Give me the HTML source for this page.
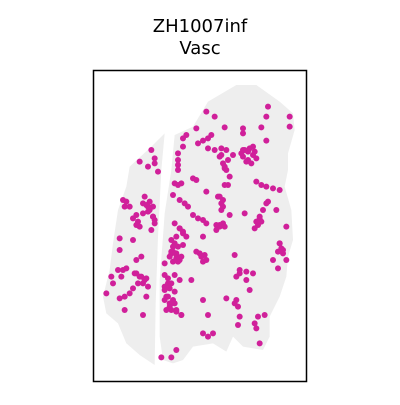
<!DOCTYPE html>
<html><head><meta charset="utf-8"><style>
body{margin:0;background:#fff;width:400px;height:400px;overflow:hidden}
</style></head><body>
<svg id="chart" width="400" height="400" xmlns="http://www.w3.org/2000/svg" font-family="DejaVu Sans, sans-serif">
<text x="200" y="32" text-anchor="middle" font-size="18">ZH1007inf</text>
<text x="200" y="54" text-anchor="middle" font-size="18">Vasc</text>
<g id="tissue"></g>
<g id="spots"></g>
<rect x="93.5" y="70.5" width="213" height="311" fill="none" stroke="#000" stroke-width="1.5"/>
</svg>
<script>
const leftTissue=[[215,190],[205,300],[195,500],[188,700],[185,885],[140,855],[100,820],[75,760],[40,730],[30,680],[50,600],[60,520],[75,420],[100,350],[110,290],[175,230]];
const rightTissue=[[245,195],[300,170],[345,95],[430,45],[490,45],[560,95],[600,130],[605,180],[585,250],[585,300],[575,350],[595,420],[600,510],[585,560],[580,620],[560,680],[530,740],[530,800],[510,840],[450,830],[420,800],[400,845],[360,820],[300,830],[270,870],[240,880],[210,870],[200,800],[200,630],[210,500],[215,430],[235,300]];
const spotX=[340,365,525,520,590,590,395,450,450,505,520,280,270,270,310,315,330,345,355,450,465,480,465,450,480,345,365,385,400,420,380,390,400,410,405,395,405,255,255,255,255,175,185,140,165,195,185,245,255,265,300,310,240,260,275,285,340,380,385,385,390,410,300,315,330,340,370,380,390,490,505,520,540,560,520,510,500,490,485,455,550,580,90,95,155,160,170,180,185,175,130,135,140,120,80,80,245,260,270,280,235,240,250,260,235,250,215,330,310,325,340,425,560,565,570,540,555,580,440,460,480,460,470,55,75,100,125,140,155,165,130,145,40,80,95,110,120,160,95,150,215,225,235,215,225,235,220,230,240,250,265,295,330,345,330,345,360,400,430,435,440,435,425,495,515,490,485,500,250,205,235,
455,470,485,460,475,445,490,375,390,380,395,370,150,165,180,150,165,180,170,185,120,130,260,270,245,255,270,235,250,265,240,255,230,245,260,225,215,230,245,215,230,245,220,235,250,320,335,330,100,110,90,85,130,145,160,135,150,60,385,395,560,570,555,505,495,500,440,430,265,250,240,395,525];
const spotY=[125,140,110,140,140,170,172,175,190,172,212,195,205,230,175,220,212,205,195,240,245,255,270,260,230,235,240,235,240,255,260,280,300,320,345,290,270,250,270,285,300,240,265,275,290,305,280,340,345,340,325,330,375,390,400,410,365,380,400,420,410,435,435,445,450,460,465,470,460,335,345,350,355,360,400,420,440,455,475,430,420,470,390,410,380,405,420,440,460,480,435,455,470,510,505,540,460,475,490,500,510,530,550,570,550,565,580,500,545,560,570,555,520,535,550,570,595,570,600,605,610,630,660,620,600,595,610,620,630,650,570,560,670,685,680,670,655,680,720,735,615,625,640,660,680,700,720,700,690,720,735,630,690,735,790,800,790,685,690,710,740,765,700,740,735,775,760,820,840,862,862,
240,235,245,275,280,250,265,380,390,465,470,480,400,410,410,430,425,440,395,450,445,465,475,485,520,530,525,545,555,560,575,575,560,615,630,640,650,655,665,690,710,700,680,720,725,550,555,575,395,410,600,620,610,620,625,640,640,640,255,295,520,540,545,455,465,445,610,620,735,500,545,345,395];
const sx=v=>93+v/3, sy=v=>70+v/3;
const NS='http://www.w3.org/2000/svg';
function poly(pts,name){
  const p=document.createElementNS(NS,'polygon');
  p.setAttribute('points',pts.map(d=>sx(d[0])+','+sy(d[1])).join(' '));
  p.setAttribute('fill','#eeeeee');
  
  
  document.getElementById('tissue').appendChild(p);
}
poly(leftTissue,'tissue-left-section');
poly(rightTissue,'tissue-right-section');
const g=document.getElementById('spots');
for(let i=0;i<spotX.length;i++){
  const c=document.createElementNS(NS,'circle');
  c.setAttribute('cx',sx(spotX[i]));c.setAttribute('cy',sy(spotY[i]));
  c.setAttribute('r',3);c.setAttribute('fill','#d0209a');
  
  
  g.appendChild(c);
}
</script>
</body></html>
